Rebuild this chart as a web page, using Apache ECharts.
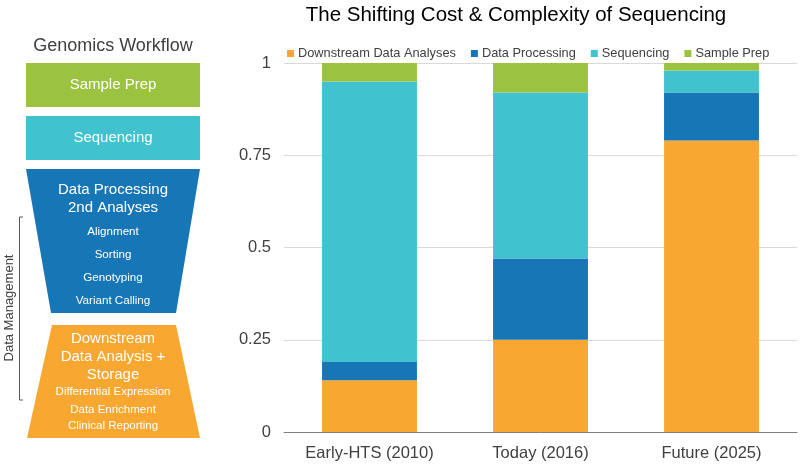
<!DOCTYPE html>
<html><head><meta charset="utf-8">
<script src="https://cdn.jsdelivr.net/npm/echarts@6/dist/echarts.min.js"></script>
<style>html,body{margin:0;padding:0;background:#fff}#c{width:800px;height:464px}</style>
</head><body><div id="c"></div>
<script>
var categories = ['Early-HTS (2010)', 'Today (2016)', 'Future (2025)'];
var downstream = [0.14, 0.25, 0.79];
var dataProcessing = [0.05, 0.22, 0.13];
var sequencing = [0.76, 0.45, 0.06];
var samplePrep = [0.05, 0.08, 0.02];
var seriesNames = ['Downstream Data Analyses', 'Data Processing', 'Sequencing', 'Sample Prep'];
var colors = ['#f8a830', '#1776b6', '#41c3cf', '#9bc33f'];
var yTicks = [0, 0.25, 0.5, 0.75, 1];

var FONT = 'Liberation Sans, Arial, sans-serif';
var chart = echarts.init(document.getElementById('c'));
var dataArr = [downstream, dataProcessing, sequencing, samplePrep];

function txt(x, y, s, size, color) {
  return {type: 'text', x: x, y: y, style: {text: s, font: size + 'px ' + FONT, fill: color || '#fff', align: 'center', verticalAlign: 'middle'}};
}

var graphics = [
  txt(113, 46, 'Genomics Workflow', 18, '#404040'),
  {type: 'rect', shape: {x: 26, y: 63, width: 174, height: 44}, style: {fill: colors[3]}},
  txt(113, 85, 'Sample Prep', 15),
  {type: 'rect', shape: {x: 26, y: 116, width: 174, height: 44}, style: {fill: colors[2]}},
  txt(113, 138, 'Sequencing', 15),
  {type: 'polygon', shape: {points: [[26, 169], [200, 169], [176, 313], [51, 313]]}, style: {fill: colors[1]}},
  txt(113, 190, 'Data Processing', 15),
  txt(113, 208, '2nd Analyses', 15),
  txt(113, 232, 'Alignment', 11.6),
  txt(113, 255, 'Sorting', 11.6),
  txt(113, 278, 'Genotyping', 11.6),
  txt(113, 301, 'Variant Calling', 11.6),
  {type: 'polygon', shape: {points: [[52, 325], [176, 325], [200, 438], [27, 438]]}, style: {fill: colors[0]}},
  txt(113, 339, 'Downstream', 15),
  txt(113, 357, 'Data Analysis +', 15),
  txt(113, 375, 'Storage', 15),
  txt(113, 392, 'Differential Expression', 11.5),
  txt(113, 409.5, 'Data Enrichment', 11.5),
  txt(113, 426, 'Clinical Reporting', 11.5),
  {type: 'polyline', shape: {points: [[23, 217], [19.5, 217], [19.5, 400], [23, 400]]}, style: {stroke: '#595959', lineWidth: 1, fill: null}},
  {type: 'text', x: 9, y: 308, rotation: Math.PI / 2, style: {text: 'Data Management', font: '13px ' + FONT, fill: '#404040', align: 'center', verticalAlign: 'middle'}}
];

chart.setOption({
  animation: false,
  textStyle: {fontFamily: FONT},
  title: {text: 'The Shifting Cost & Complexity of Sequencing', left: 511, top: 0, textAlign: 'center',
    textStyle: {fontSize: 20.5, fontWeight: 'normal', color: '#000', fontFamily: FONT}},
  legend: {data: seriesNames, top: 42, left: 282, itemWidth: 7, itemHeight: 7, itemGap: 15, icon: 'rect',
    textStyle: {fontSize: 12.8, color: '#404040', fontFamily: FONT, padding: [0, 0, 0, -1]}},
  grid: {left: 284, right: 3, top: 63, bottom: 32, containLabel: false},
  xAxis: {type: 'category', data: categories,
    axisLine: {lineStyle: {color: '#808080'}}, axisTick: {show: false},
    axisLabel: {fontSize: 16.5, color: '#404040', margin: 13, fontFamily: FONT}},
  yAxis: {type: 'value', min: 0, max: 1, interval: 0.25,
    axisLine: {show: false}, axisTick: {show: false},
    splitLine: {lineStyle: {color: '#d9d9d9'}},
    axisLabel: {fontSize: 16.5, color: '#404040', margin: 13, fontFamily: FONT,
      formatter: function (v) { return yTicks.indexOf(v) >= 0 ? String(v) : ''; }}},
  series: seriesNames.map(function (n, i) {
    return {name: n, type: 'bar', stack: 'total', barWidth: '55.5%', data: dataArr[i], itemStyle: {color: colors[i]}};
  }),
  graphic: graphics
});
</script></body></html>
